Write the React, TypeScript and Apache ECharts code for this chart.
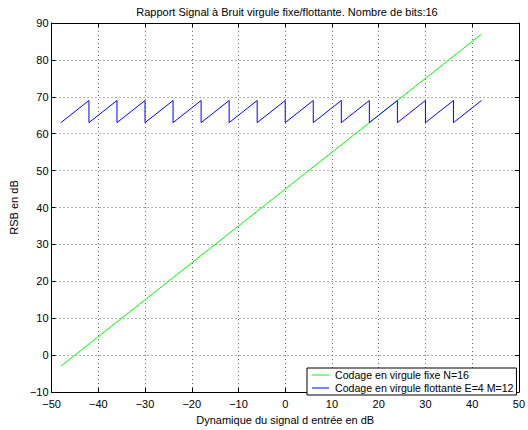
import React, { useEffect, useRef } from "react";
import * as echarts from "echarts";

const titleText = "Rapport Signal à Bruit virgule fixe/flottante. Nombre de bits:16";
const xName = "Dynamique du signal d entrée en dB";
const yName = "RSB en dB";
const legendNames = ["Codage en virgule fixe N=16", "Codage en virgule flottante E=4 M=12"];

const fixedX = [-48, 42];
const fixedY = [-3, 87];

const floatX = [-48, -42, -42, -36, -36, -30, -30, -24, -24, -18, -18, -12, -12, -6, -6, 0, 0, 6, 6, 12, 12, 18, 18, 24, 24, 30, 30, 36, 36, 42];
const floatY = [63, 69, 63, 69, 63, 69, 63, 69, 63, 69, 63, 69, 63, 69, 63, 69, 63, 69, 63, 69, 63, 69, 63, 69, 63, 69, 63, 69, 63, 69];

const xMin = -50, xMax = 50, xStep = 10;
const yMin = -10, yMax = 90, yStep = 10;

const FONT = "'Liberation Sans', Arial, sans-serif";

const fmt = (v: number) => (v < 0 ? "\u2212" + Math.abs(v) : String(v));

export default function App() {
  const ref = useRef<HTMLDivElement>(null);
  useEffect(() => {
    if (!ref.current) return;
    const chart = echarts.init(ref.current, undefined, { renderer: "svg" });
    const grid = { left: 47, right: 1, top: 23, bottom: 27 };
    const tickStyle = { show: true, inside: true, length: 4, lineStyle: { color: "#000", width: 1 } };
    const split = { show: true, lineStyle: { color: "#666", type: [1, 3] as any, width: 1 } };
    chart.setOption({
      animation: false,
      backgroundColor: "#fff",
      textStyle: { fontFamily: FONT },
      graphic: [
        {
          type: "text",
          x: 287,
          y: 6,
          style: { text: titleText, font: `11px ${FONT}`, fill: "#000", align: "center", verticalAlign: "top" },
        },
      ],
      legend: {
        left: 307,
        top: 368,
        orient: "vertical",
        backgroundColor: "#fff",
        borderColor: "#000",
        borderWidth: 1,
        borderRadius: 0,
        padding: [1, 3, 1, 5],
        itemGap: 1,
        itemWidth: 17,
        itemHeight: 1,
        icon: "rect",
        textStyle: { fontSize: 10.6, fontFamily: FONT, color: "#000", padding: [0, 0, 0, 1], lineHeight: 12 },
        data: legendNames,
      },
      grid,
      xAxis: [
        {
          type: "value",
          min: xMin,
          max: xMax,
          interval: xStep,
          name: xName,
          nameLocation: "middle",
          nameGap: 22,
          nameTextStyle: { fontSize: 11, color: "#000", fontFamily: FONT },
          axisLine: { show: true, onZero: false, lineStyle: { color: "#000", width: 1 } },
          axisTick: tickStyle,
          axisLabel: { formatter: fmt, fontSize: 11, color: "#000", margin: 6, fontFamily: FONT, showMaxLabel: true },
          splitLine: split,
        },
        {
          type: "value",
          position: "top",
          min: xMin,
          max: xMax,
          interval: xStep,
          axisLine: { show: true, onZero: false, lineStyle: { color: "#000", width: 1 } },
          axisTick: tickStyle,
          axisLabel: { show: false },
          splitLine: { show: false },
        },
      ],
      yAxis: [
        {
          type: "value",
          min: yMin,
          max: yMax,
          interval: yStep,
          name: yName,
          nameLocation: "middle",
          nameGap: 26,
          nameTextStyle: { fontSize: 11, color: "#000", fontFamily: FONT },
          axisLine: { show: true, onZero: false, lineStyle: { color: "#000", width: 1 } },
          axisTick: tickStyle,
          axisLabel: { formatter: fmt, fontSize: 11, color: "#000", margin: 3, fontFamily: FONT },
          splitLine: split,
        },
        {
          type: "value",
          position: "right",
          min: yMin,
          max: yMax,
          interval: yStep,
          axisLine: { show: true, onZero: false, lineStyle: { color: "#000", width: 1 } },
          axisTick: tickStyle,
          axisLabel: { show: false },
          splitLine: { show: false },
        },
      ],
      series: [
        {
          name: legendNames[0],
          type: "line",
          data: fixedX.map((x, i) => [x, fixedY[i]]),
          showSymbol: false,
          symbol: "none",
          lineStyle: { color: "#00ff00", width: 1 },
          itemStyle: { color: "#00ff00" },
        },
        {
          name: legendNames[1],
          type: "line",
          data: floatX.map((x, i) => [x, floatY[i]]),
          showSymbol: false,
          symbol: "none",
          lineStyle: { color: "#0000ff", width: 1 },
          itemStyle: { color: "#0000ff" },
        },
      ],
    });
    return () => chart.dispose();
  }, []);
  return (
    <div
      ref={ref}
      style={{ position: "absolute", left: 0, top: 0, width: 528, height: 430, background: "#fff" }}
    />
  );
}
